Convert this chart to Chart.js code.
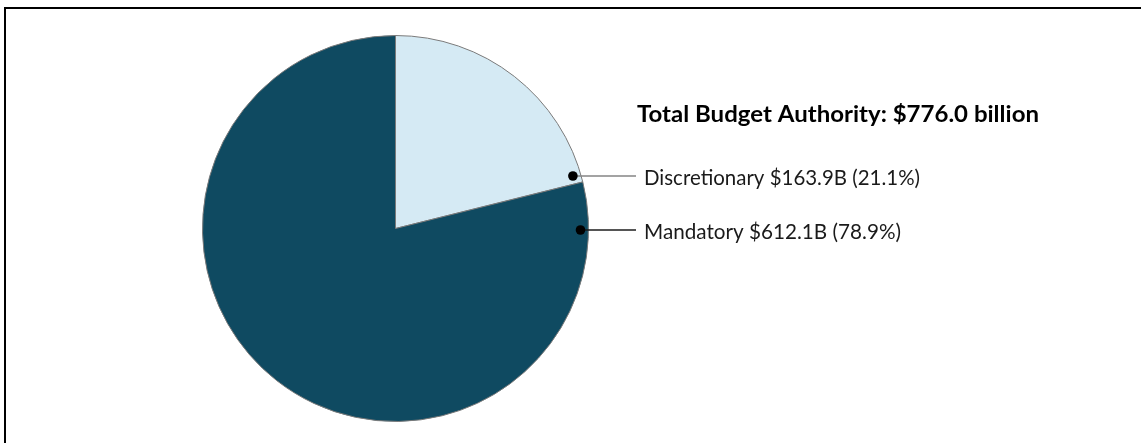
<!DOCTYPE html>
<html>
<head>
<meta charset="utf-8">
<script src="https://cdn.jsdelivr.net/npm/chart.js@4"></script>
<style>
  html, body { margin: 0; padding: 0; background: #fff; }
  #wrap { position: relative; width: 1141px; height: 443px; overflow: hidden; }
  #frame { position: absolute; left: 4px; top: 7px; width: 1200px; height: 500px;
           border-left: 2px solid #000; border-top: 2px solid #000; }
  #chart { position: absolute; left: 0; top: 0; }
</style>
</head>
<body>
<div id="wrap">
  <div id="frame"></div>
  <canvas id="chart" width="1141" height="443"></canvas>
</div>
<script>
// ---- data ----
const categories = ['Discretionary', 'Mandatory'];
const amounts = [163.9, 612.1];            // $ billions
const shares = ['21.1%', '78.9%'];
const totalLabel = 'Total Budget Authority: $776.0 billion';
const sliceColors = ['#D5EAF4', '#0F4A61'];

// ---- label layout ----
const TEXT_X = 644, LINE_END_X = 636, TITLE_X = 637;
const rowY = [176, 230];                  // leader line rows
const rowBase = [184.5, 238.5];           // text baselines
const rowWidth = [276, 257];
const lineColors = ['#858585', '#1c1c1c'];
const FONT = 'Lato, "Liberation Sans", sans-serif';

// draw text at a fixed height, squeezed sideways to the width seen in the original
function squeezedText(ctx, text, x, y, size, weight, width) {
  ctx.font = `${weight} ${size}px ${FONT}`;
  const w = ctx.measureText(text).width;
  ctx.save();
  ctx.translate(x, y);
  ctx.scale(width / w, 1);
  ctx.fillText(text, 0, 0);
  ctx.restore();
}

const leaderLabels = {
  id: 'leaderLabels',
  afterDatasetsDraw(chart) {
    const ctx = chart.ctx;
    const arc = chart.getDatasetMeta(0).data[0];
    const cx = arc.x, cy = arc.y, r = arc.outerRadius - 8;
    ctx.save();
    ctx.textBaseline = 'alphabetic';
    ctx.fillStyle = '#000';
    squeezedText(ctx, totalLabel, TITLE_X, 122, 22, 'bold', 402);

    categories.forEach((c, i) => {
      const y = rowY[i];
      const dx = Math.sqrt(Math.max(r * r - (y - cy) * (y - cy), 0));
      const dotX = cx + dx;
      ctx.strokeStyle = lineColors[i];
      ctx.lineWidth = 1.3;
      ctx.beginPath();
      ctx.moveTo(dotX, y);
      ctx.lineTo(LINE_END_X, y);
      ctx.stroke();
      ctx.fillStyle = '#000';
      ctx.beginPath();
      ctx.arc(dotX, y, 4.8, 0, Math.PI * 2);
      ctx.fill();
      const txt = `${c} $${amounts[i].toFixed(1)}B (${shares[i]})`;
      ctx.fillStyle = '#1a1a1a';
      squeezedText(ctx, txt, TEXT_X, rowBase[i], 22, 'normal', rowWidth[i]);
    });
    ctx.restore();
  }
};

new Chart(document.getElementById('chart'), {
  type: 'pie',
  data: {
    labels: categories,
    datasets: [{
      data: amounts,
      backgroundColor: sliceColors,
      borderColor: '#7a7a7a',
      borderWidth: 1
    }]
  },
  options: {
    responsive: false,
    animation: false,
    devicePixelRatio: 1,
    layout: { padding: { left: 202, right: 552, top: 35, bottom: 21 } },
    plugins: { legend: { display: false }, tooltip: { enabled: false } }
  },
  plugins: [leaderLabels]
});
</script>
</body>
</html>
